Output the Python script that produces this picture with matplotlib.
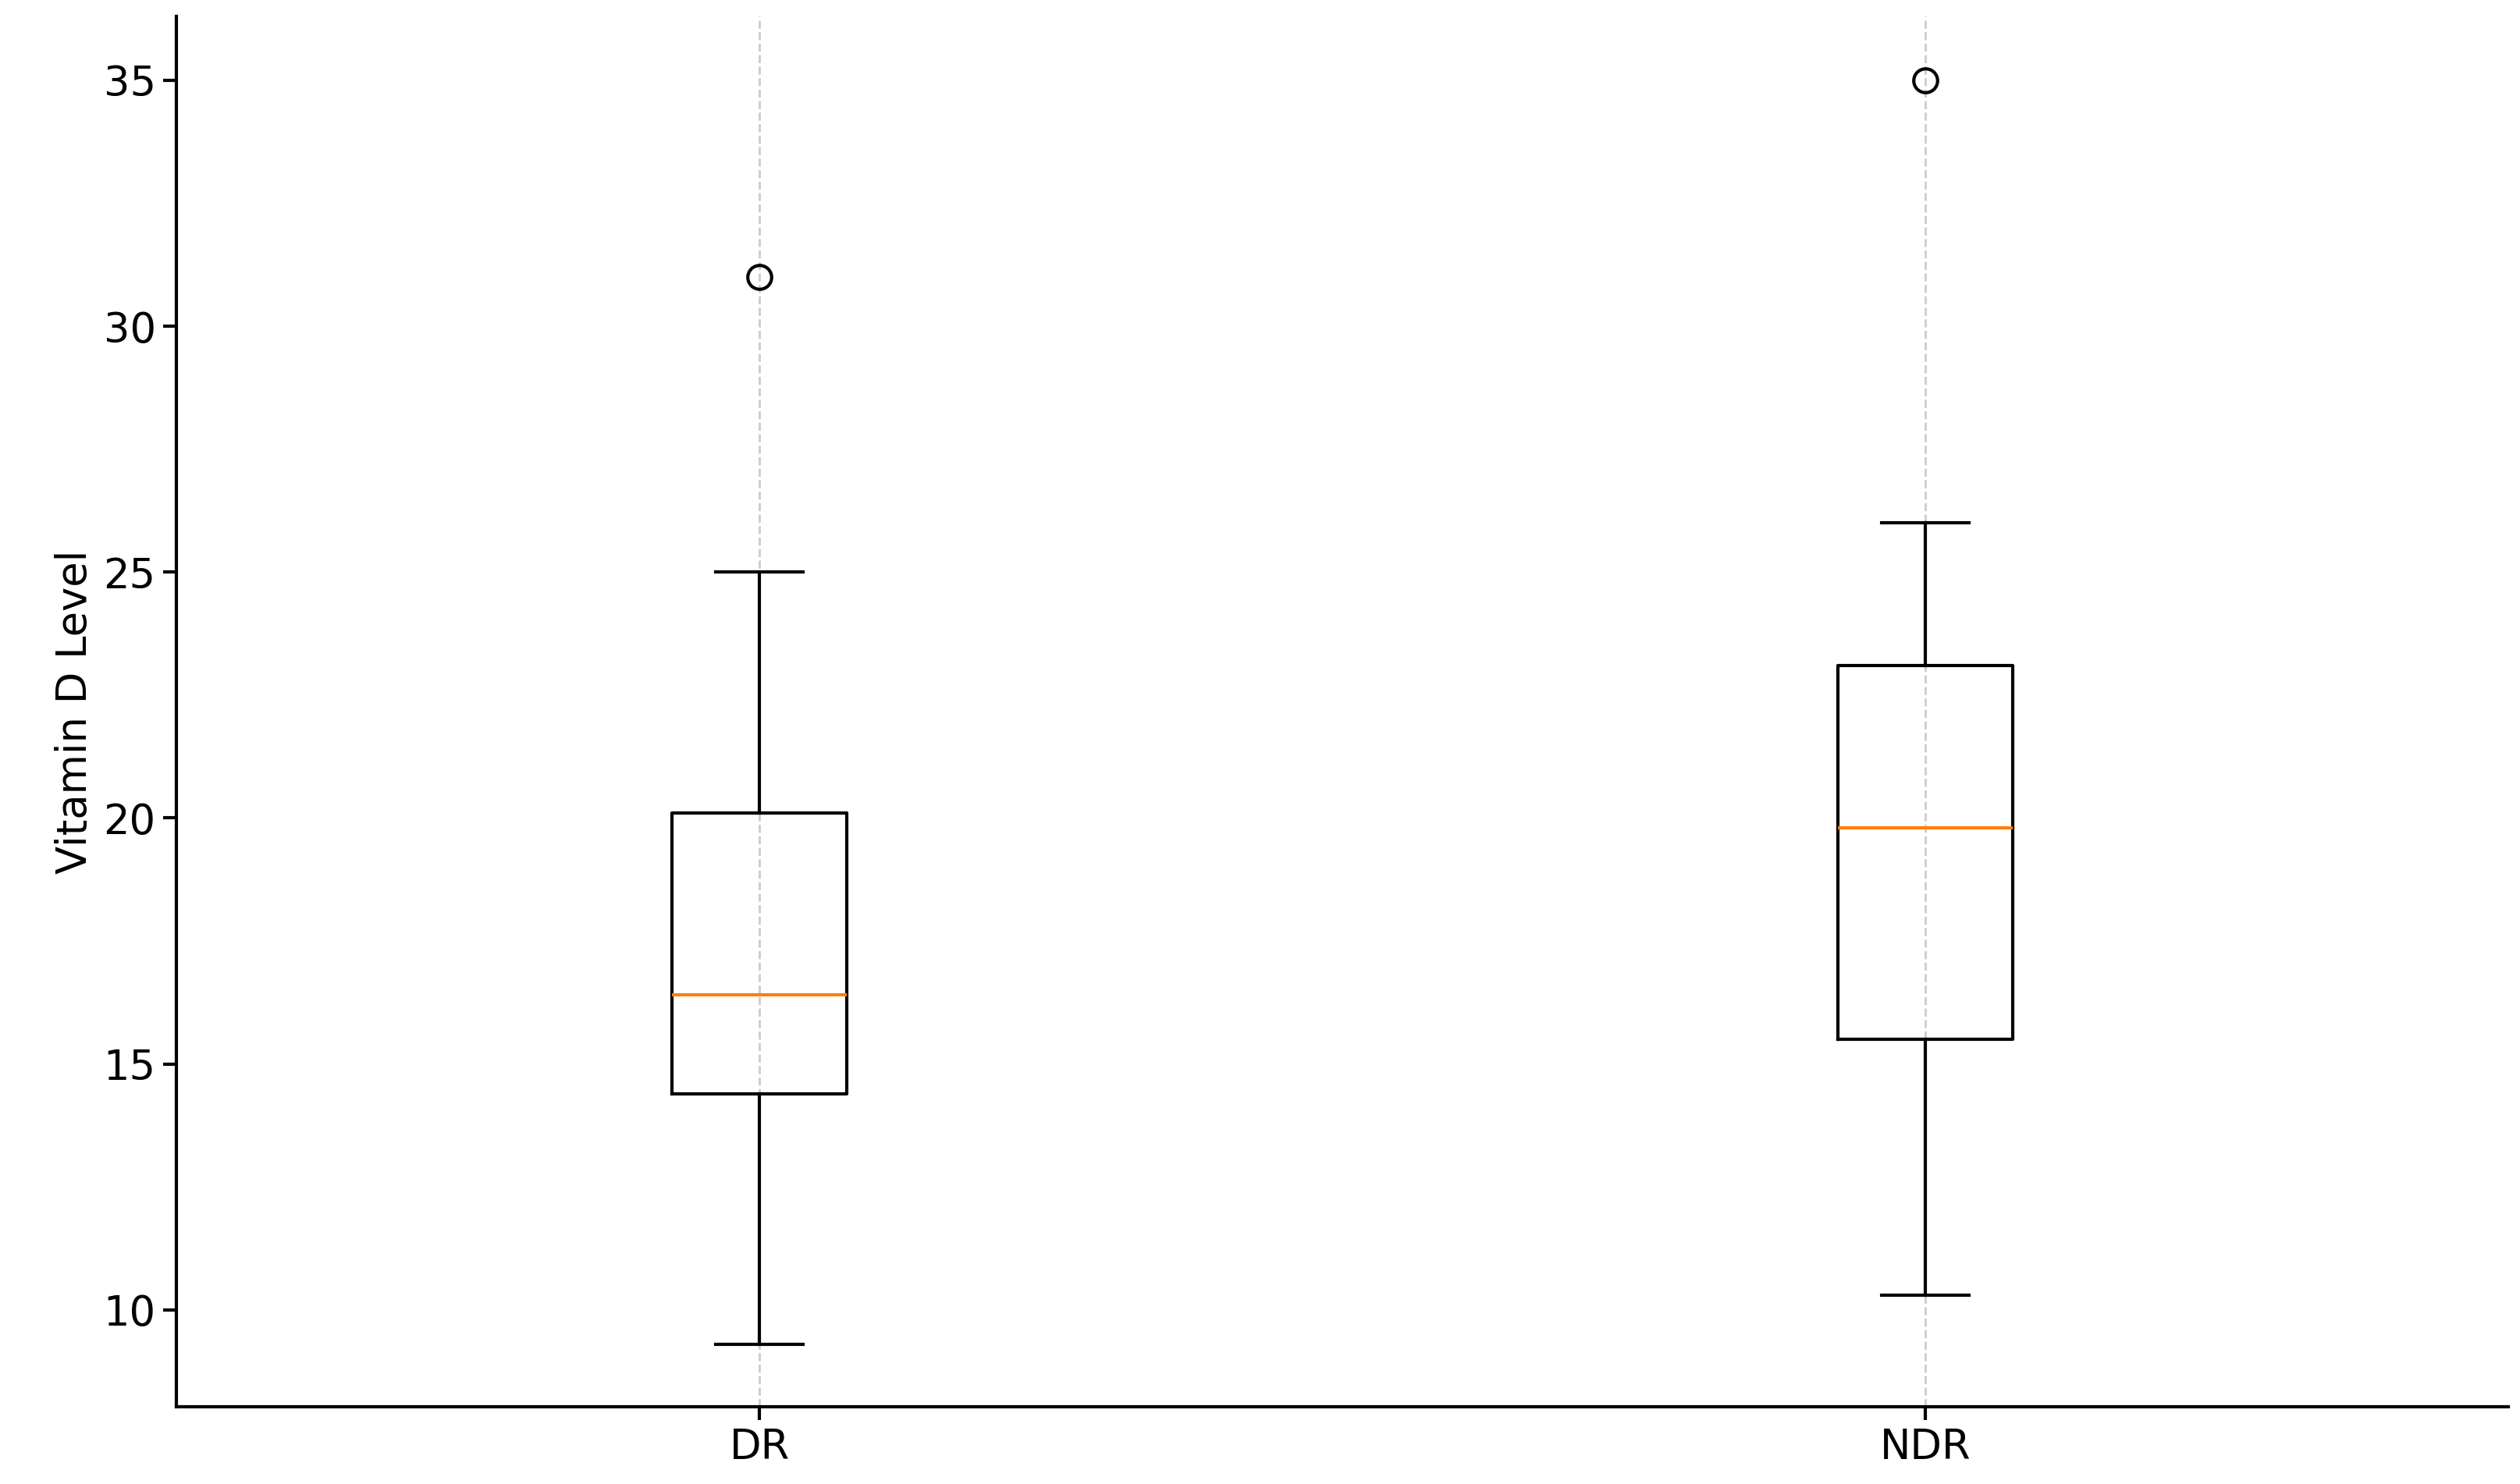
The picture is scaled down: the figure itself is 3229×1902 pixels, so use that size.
import matplotlib.pyplot as plt

groups = ["DR", "NDR"]
whislo = [9.3, 10.3]
q1 = [14.4, 15.5]
med = [16.4, 19.8]
q3 = [20.1, 23.1]
whishi = [25.0, 26.0]
fliers = [[31.0], [35.0]]

stats = []
for i, g in enumerate(groups):
    stats.append(dict(label=g, whislo=whislo[i], q1=q1[i], med=med[i],
                      q3=q3[i], whishi=whishi[i], fliers=fliers[i]))

fig = plt.figure(figsize=(16.15, 9.51), dpi=200)
ax = fig.add_axes([0.07, 0.052, 0.925, 0.937])

lw = 1.5
ax.bxp(stats, widths=0.15,
       boxprops=dict(linewidth=lw, color="black"),
       whiskerprops=dict(linewidth=lw, color="black"),
       capprops=dict(linewidth=lw, color="black"),
       medianprops=dict(linewidth=lw, color="#ff7f0e"),
       flierprops=dict(marker="o", markersize=11, markerfacecolor="none",
                       markeredgecolor="black", markeredgewidth=lw))

ax.set_xlim(0.5, 2.5)
ax.set_ylim(8.03, 36.3)
ax.set_yticks([10, 15, 20, 25, 30, 35])
ax.xaxis.grid(True, linestyle="--", color="#cccccc", linewidth=1)
ax.set_axisbelow(True)
ax.spines["top"].set_visible(False)
ax.spines["right"].set_visible(False)
for s in ["left", "bottom"]:
    ax.spines[s].set_linewidth(lw)
ax.tick_params(labelsize=19, width=lw, length=6)
ax.set_ylabel("Vitamin D Level", fontsize=19)

fig.savefig("out.png")
